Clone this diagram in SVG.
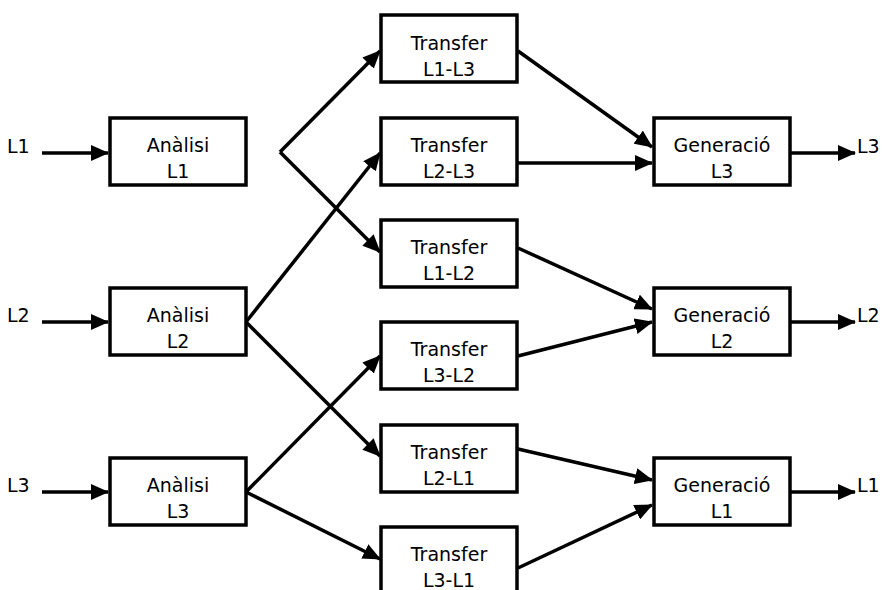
<svg xmlns="http://www.w3.org/2000/svg" width="882" height="590" viewBox="0 0 882 590">
  <style>
    .box { fill: #fff; stroke: #000; stroke-width: 3.5; }
    .lbl { font-family: "DejaVu Sans", sans-serif; font-size: 19px; fill: #000; text-anchor: middle; }
    .io { font-family: "DejaVu Sans", sans-serif; font-size: 19px; fill: #000; }
    .edge { fill: none; stroke: #000; stroke-width: 3.5; marker-end: url(#arr); }
    .plain { fill: none; stroke: #000; stroke-width: 3.5; }
  </style>
  <defs>
    <marker id="arr" markerUnits="userSpaceOnUse" markerWidth="18" markerHeight="16" viewBox="0 0 18 16" refX="17" refY="8" orient="auto">
      <path d="M0,0 L18,8 L0,16 Z" fill="#000"/>
    </marker>
  </defs>
  <rect width="882" height="590" fill="#fff"/>

  <g id="connectors">
    <!-- inputs -->
    <line class="edge" x1="42" y1="153" x2="108" y2="153"/>
    <line class="edge" x1="42" y1="322" x2="108" y2="322"/>
    <line class="edge" x1="42" y1="492" x2="108" y2="492"/>
    <!-- fork into L1 transfers -->
    <line class="edge" x1="280" y1="152" x2="380" y2="51"/>
    <line class="edge" x1="280" y1="152" x2="380" y2="252"/>
    <!-- from Anàlisi L2 -->
    <line class="edge" x1="246" y1="322" x2="380" y2="153"/>
    <line class="edge" x1="246" y1="322" x2="380" y2="456"/>
    <!-- from Anàlisi L3 -->
    <line class="edge" x1="246" y1="492" x2="380" y2="356"/>
    <line class="edge" x1="246" y1="492" x2="380" y2="559"/>
    <!-- transfers to generation -->
    <line class="edge" x1="518" y1="51" x2="652" y2="147"/>
    <line class="edge" x1="518" y1="163" x2="652" y2="163"/>
    <line class="edge" x1="518" y1="248" x2="652" y2="309"/>
    <line class="edge" x1="518" y1="356" x2="652" y2="322"/>
    <line class="edge" x1="518" y1="449" x2="652" y2="480"/>
    <line class="edge" x1="518" y1="568" x2="652" y2="505"/>
    <!-- outputs -->
    <line class="edge" x1="791" y1="153" x2="855" y2="153"/>
    <line class="edge" x1="791" y1="322" x2="855" y2="322"/>
    <line class="edge" x1="791" y1="492" x2="855" y2="492"/>
  </g>

  <g id="io-labels">
    <text class="io" x="7" y="153">L1</text>
    <text class="io" x="7" y="322">L2</text>
    <text class="io" x="7" y="492">L3</text>
    <text class="io" x="857" y="153">L3</text>
    <text class="io" x="857" y="322">L2</text>
    <text class="io" x="857" y="492">L1</text>
  </g>

  <g id="analisi-l1"><rect class="box" x="110" y="118" width="136" height="67"/><text class="lbl" x="178" y="152">Anàlisi</text><text class="lbl" x="178" y="178">L1</text></g>
  <g id="analisi-l2"><rect class="box" x="110" y="288" width="136" height="67"/><text class="lbl" x="178" y="322">Anàlisi</text><text class="lbl" x="178" y="348">L2</text></g>
  <g id="analisi-l3"><rect class="box" x="110" y="458" width="136" height="67"/><text class="lbl" x="178" y="492">Anàlisi</text><text class="lbl" x="178" y="518">L3</text></g>

  <g id="transfer-l1-l3"><rect class="box" x="381" y="15" width="136" height="67"/><text class="lbl" x="449" y="50">Transfer</text><text class="lbl" x="449" y="76">L1-L3</text></g>
  <g id="transfer-l2-l3"><rect class="box" x="381" y="118" width="136" height="67"/><text class="lbl" x="449" y="152">Transfer</text><text class="lbl" x="449" y="178">L2-L3</text></g>
  <g id="transfer-l1-l2"><rect class="box" x="381" y="220" width="136" height="67"/><text class="lbl" x="449" y="254">Transfer</text><text class="lbl" x="449" y="280">L1-L2</text></g>
  <g id="transfer-l3-l2"><rect class="box" x="381" y="322" width="136" height="67"/><text class="lbl" x="449" y="356">Transfer</text><text class="lbl" x="449" y="382">L3-L2</text></g>
  <g id="transfer-l2-l1"><rect class="box" x="381" y="425" width="136" height="67"/><text class="lbl" x="449" y="459">Transfer</text><text class="lbl" x="449" y="485">L2-L1</text></g>
  <g id="transfer-l3-l1"><rect class="box" x="381" y="527" width="136" height="67"/><text class="lbl" x="449" y="561">Transfer</text><text class="lbl" x="449" y="587">L3-L1</text></g>

  <g id="generacio-l3"><rect class="box" x="654" y="118" width="136" height="67"/><text class="lbl" x="722" y="152">Generació</text><text class="lbl" x="722" y="178">L3</text></g>
  <g id="generacio-l2"><rect class="box" x="654" y="288" width="136" height="67"/><text class="lbl" x="722" y="322">Generació</text><text class="lbl" x="722" y="348">L2</text></g>
  <g id="generacio-l1"><rect class="box" x="654" y="458" width="136" height="67"/><text class="lbl" x="722" y="492">Generació</text><text class="lbl" x="722" y="518">L1</text></g>
</svg>
